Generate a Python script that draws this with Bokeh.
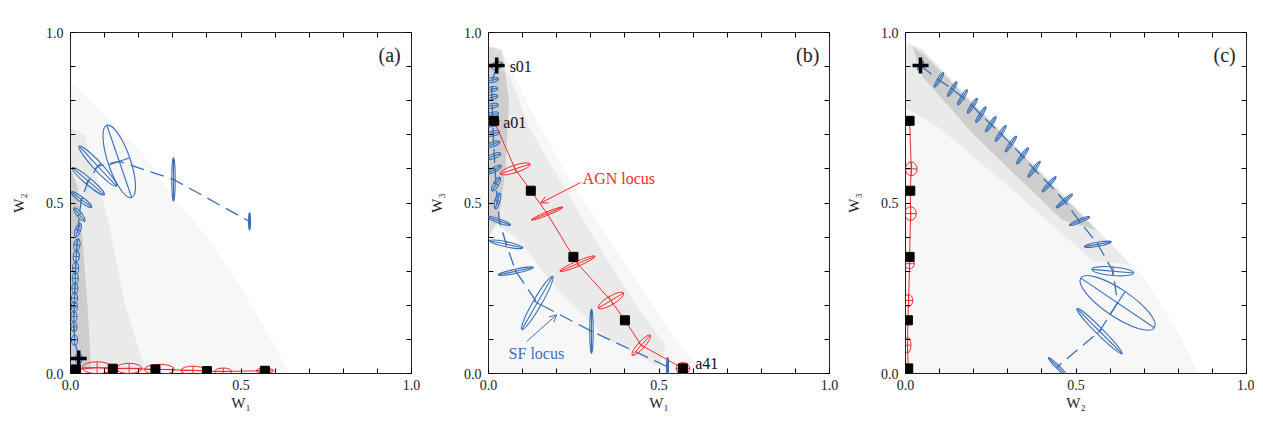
import numpy as np
from bokeh.plotting import figure
from bokeh.models import (Range1d, FixedTicker, LinearAxis, PrintfTickFormatter,
                          Arrow, OpenHead)
from bokeh.layouts import row
from bokeh.embed import file_html
from bokeh.resources import INLINE
from bokeh.core.properties import value

BLUE = "#3a70b8"
RED = "#f42a2a"
FONT = "Liberation Serif"

# ---------------- SF locus nodes (s01 ... ) ----------------
sf_w1 = [0.024, 0.012, 0.010, 0.010, 0.011, 0.012, 0.013, 0.014, 0.015, 0.017,
         0.019, 0.022, 0.026, 0.032, 0.052, 0.080, 0.143, 0.302, 0.525]
sf_w2 = [0.044, 0.098, 0.137, 0.167, 0.196, 0.221, 0.250, 0.279, 0.309, 0.343,
         0.377, 0.421, 0.466, 0.510, 0.564, 0.608, 0.622, 0.569, 0.446]
sf_w3 = [0.903, 0.861, 0.834, 0.810, 0.785, 0.759, 0.731, 0.704, 0.673, 0.638,
         0.599, 0.555, 0.506, 0.447, 0.379, 0.300, 0.207, 0.124, 0.020]

# SF error ellipses (major, minor, angle in deg) for each projection
sf_a_major = [0.030, 0.030, 0.028, 0.030, 0.030, 0.032, 0.030, 0.032, 0.034, 0.034,
              0.036, 0.040, 0.050, 0.074, 0.123, 0.160, 0.224, 0.127, 0.050]
sf_a_minor = [0.020, 0.018, 0.018, 0.018, 0.018, 0.018, 0.018, 0.018, 0.018, 0.018,
              0.018, 0.016, 0.015, 0.015, 0.020, 0.025, 0.065, 0.010, 0.006]
sf_a_angle = [90, 90, 90, 90, 90, 90, 90, 90, 90, 85, 80, 70, -50, -37, -40, -47, 109, 90, 90]

sf_b_major = [0.035, 0.034, 0.034, 0.035, 0.035, 0.036, 0.036, 0.038, 0.038, 0.040,
              0.042, 0.045, 0.048, 0.070, 0.100, 0.105, 0.180, 0.130, 0.055]
sf_b_minor = [0.020, 0.014, 0.014, 0.014, 0.014, 0.014, 0.014, 0.014, 0.014, 0.014,
              0.014, 0.015, 0.015, 0.012, 0.015, 0.012, 0.025, 0.010, 0.006]
sf_b_angle = [20, 10, 10, 15, 10, 15, 10, 15, 20, 20, 30, 60, 75, -20, -12, 12, 60, 90, 90]

sf_c_major = [0.030, 0.050, 0.050, 0.052, 0.052, 0.054, 0.054, 0.056, 0.056, 0.058,
              0.058, 0.060, 0.062, 0.064, 0.080, 0.123, 0.260, 0.187, 0.076]
sf_c_minor = [0.010, 0.010, 0.010, 0.010, 0.010, 0.010, 0.010, 0.010, 0.010, 0.010,
              0.010, 0.010, 0.010, 0.010, 0.012, 0.025, 0.080, 0.020, 0.010]
sf_c_angle = [60, 58, 58, 58, 57, 57, 56, 56, 55, 54, 52, 48, 40, 22, 10, -5, -34, -45, -45]

# ---------------- AGN locus nodes ----------------
agn_names = ["a01", "a06", "a11", "a16", "a21", "a22", "a28", "a31", "a36", "a41"]
agn_w1 = [0.016, 0.078, 0.124, 0.172, 0.249, 0.261, 0.359, 0.400, 0.448, 0.570]
agn_w2 = [0.012, 0.017, 0.014, 0.015, 0.012, 0.012, 0.009, 0.007, 0.006, 0.008]
agn_w3 = [0.741, 0.600, 0.536, 0.469, 0.342, 0.322, 0.214, 0.156, 0.083, 0.015]
agn_square_names = ["a01", "a11", "a21", "a31", "a41"]

agn_a_major = [0.030, 0.088, 0.0, 0.074, 0.0, 0.088, 0.070, 0.0, 0.050, 0.050]
agn_a_minor = [0.012, 0.035, 0.0, 0.030, 0.0, 0.030, 0.025, 0.0, 0.020, 0.015]
agn_a_angle = [0, 0, 0, 0, 0, 0, 0, 0, 0, 0]

agn_b_major = [0.035, 0.093, 0.0, 0.100, 0.0, 0.112, 0.086, 0.0, 0.079, 0.040]
agn_b_minor = [0.006, 0.022, 0.0, 0.010, 0.0, 0.015, 0.025, 0.0, 0.020, 0.034]
agn_b_angle = [0, 18, 0, 22, 0, 23, 31, 0, 48, 0]

agn_c_major = [0.020, 0.040, 0.0, 0.040, 0.0, 0.030, 0.035, 0.0, 0.045, 0.020]
agn_c_minor = [0.006, 0.034, 0.0, 0.034, 0.0, 0.028, 0.025, 0.0, 0.020, 0.010]
agn_c_angle = [0, 90, 0, 90, 0, 90, 90, 0, 90, 90]

# ---------------- galaxy cloud envelopes (outer / medium / dense) ----------------
cloud_a = [
    ([0, 0.64, 0.60, 0.50, 0.40, 0.30, 0.20, 0.10, 0.03, 0.0],
     [0, 0.0, 0.08, 0.25, 0.40, 0.52, 0.66, 0.76, 0.83, 0.85]),
    ([0, 0.22, 0.16, 0.11, 0.07, 0.04, 0.0],
     [0.01, 0.01, 0.20, 0.45, 0.60, 0.70, 0.72]),
    ([0, 0.06, 0.05, 0.035, 0.02, 0.0],
     [0.02, 0.02, 0.20, 0.40, 0.55, 0.60]),
]
cloud_b = [
    ([0, 0.63, 0.55, 0.45, 0.35, 0.22, 0.12, 0.05, 0.0],
     [0, 0.0, 0.10, 0.25, 0.40, 0.60, 0.78, 0.93, 0.96]),
    ([0, 0.06, 0.12, 0.22, 0.32, 0.42, 0.52, 0.50, 0.35, 0.20, 0.08, 0.0],
     [0.90, 0.88, 0.72, 0.55, 0.38, 0.22, 0.08, 0.02, 0.10, 0.25, 0.40, 0.45]),
    ([0, 0.04, 0.06, 0.05, 0.03, 0.0],
     [0.96, 0.95, 0.80, 0.60, 0.45, 0.40]),
]
cloud_c = [
    ([0, 0.0, 0.05, 0.70, 0.80, 0.86],
     [0, 0.98, 0.95, 0.28, 0.12, 0.0]),
    ([0, 0.05, 0.66, 0.55, 0.30, 0.10, 0.0],
     [0.97, 0.95, 0.32, 0.33, 0.55, 0.72, 0.78]),
    ([0.02, 0.06, 0.56, 0.46, 0.20, 0.05],
     [0.96, 0.93, 0.42, 0.45, 0.70, 0.87]),
]
cloud_alpha = [0.03, 0.05, 0.12]

# ---------------- annotations (panel b) ----------------
label_names = ["s01", "a01", "a41"]
label_w1 = [0.062, 0.043, 0.606]
label_w3 = [0.900, 0.735, 0.029]
agn_text_pos = (0.276, 0.571)
sf_text_pos = (0.059, 0.059)
agn_arrow = (0.270, 0.560, 0.153, 0.500)
sf_arrow = (0.112, 0.094, 0.200, 0.172)

TICKS = [0.0, 0.5, 1.0]
MINOR = [0.1, 0.2, 0.3, 0.4, 0.6, 0.7, 0.8, 0.9]
ALL_TICKS = [0.0, 0.1, 0.2, 0.3, 0.4, 0.5, 0.6, 0.7, 0.8, 0.9, 1.0]


def style_axis(ax, show_labels):
    if show_labels:
        ax.ticker = FixedTicker(ticks=TICKS, minor_ticks=MINOR)
    else:
        ax.ticker = FixedTicker(ticks=[], minor_ticks=ALL_TICKS)
    ax.major_tick_in = 5
    ax.major_tick_out = 0
    ax.minor_tick_in = 5
    ax.minor_tick_out = 0
    ax.major_tick_line_color = "black"
    ax.minor_tick_line_color = "black"
    ax.axis_line_color = None
    if show_labels:
        ax.formatter = PrintfTickFormatter(format="%.1f")
        ax.major_label_text_font = FONT
        ax.major_label_text_font_size = "14px"
        ax.major_label_text_color = "#222222"
        ax.axis_label_text_font = FONT
        ax.axis_label_text_font_size = "15px"
        ax.axis_label_text_font_style = "normal"
        ax.axis_label_text_color = "#222222"
    else:
        ax.major_label_standoff = 0
        ax.axis_label = None


def axes_segments(x, y, major, minor, ang):
    x = np.asarray(x, float); y = np.asarray(y, float)
    major = np.asarray(major, float); minor = np.asarray(minor, float)
    t = np.radians(np.asarray(ang, float))
    keep = major > 0
    x, y, major, minor, t = x[keep], y[keep], major[keep], minor[keep], t[keep]
    x0 = np.concatenate([x - major / 2 * np.cos(t), x - minor / 2 * np.cos(t + np.pi / 2)])
    y0 = np.concatenate([y - major / 2 * np.sin(t), y - minor / 2 * np.sin(t + np.pi / 2)])
    x1 = np.concatenate([x + major / 2 * np.cos(t), x + minor / 2 * np.cos(t + np.pi / 2)])
    y1 = np.concatenate([y + major / 2 * np.sin(t), y + minor / 2 * np.sin(t + np.pi / 2)])
    return x0, y0, x1, y1


def draw_ellipses(p, x, y, major, minor, ang, color, lw):
    keep = [i for i, m in enumerate(major) if m > 0]
    p.ellipse(x=[x[i] for i in keep], y=[y[i] for i in keep],
              width=[major[i] for i in keep], height=[minor[i] for i in keep],
              angle=[ang[i] for i in keep], angle_units="deg",
              fill_color=None, line_color=color, line_width=lw)
    x0, y0, x1, y1 = axes_segments(x, y, major, minor, ang)
    p.segment(x0=x0, y0=y0, x1=x1, y1=y1, line_color=color, line_width=lw)


def make_panel(sx, sy, s_ell, ax_, ay_, a_ell, cloud, xlabel, ylabel, tag, bl, br):
    p = figure(frame_width=341, frame_height=341,
               x_range=Range1d(0, 1), y_range=Range1d(0, 1),
               output_backend="svg", toolbar_location=None,
               min_border_left=bl, min_border_right=br,
               min_border_top=32, min_border_bottom=41,
               background_fill_color="white", border_fill_color="white")
    p.grid.visible = False
    p.outline_line_color = "#222222"
    p.outline_line_width = 1

    p.xaxis.axis_label = xlabel
    p.yaxis.axis_label = ylabel
    for ax in p.xaxis:
        style_axis(ax, True)
        ax.major_label_standoff = 6
        ax.axis_label_standoff = 2
    for ax in p.yaxis:
        style_axis(ax, True)
        ax.major_label_standoff = 7
        ax.axis_label_standoff = 16
    top = LinearAxis(); style_axis(top, False)
    right = LinearAxis(); style_axis(right, False)
    p.add_layout(top, "above")
    p.add_layout(right, "right")

    for (cx, cy), a in zip(cloud, cloud_alpha):
        p.patch(cx, cy, fill_color="black", fill_alpha=a, line_color=None)

    # SF locus
    p.line(sx, sy, line_color=BLUE, line_width=1.3, line_dash="14 7")
    draw_ellipses(p, sx, sy, *s_ell, BLUE, 1.1)
    # AGN locus
    p.line(ax_, ay_, line_color=RED, line_width=1.0)
    draw_ellipses(p, ax_, ay_, *a_ell, RED, 1.0)

    sq = [i for i, n in enumerate(agn_names) if n in agn_square_names]
    p.scatter([ax_[i] for i in sq], [ay_[i] for i in sq], marker="square",
              size=9, color="black")
    p.scatter([sx[0]], [sy[0]], marker="cross", size=16, line_width=3.5,
              line_color="black")

    p.text(x=[0.936], y=[0.935], text=[tag], text_font=value(FONT),
           text_font_size="20px", text_align="center", text_baseline="middle",
           text_color="#222222")
    return p


p1 = make_panel(sf_w1, sf_w2, (sf_a_major, sf_a_minor, sf_a_angle),
                agn_w1, agn_w2, (agn_a_major, agn_a_minor, agn_a_angle),
                cloud_a, "W\u2081", "W\u2082", "(a)", 70, 10)
p2 = make_panel(sf_w1, sf_w3, (sf_b_major, sf_b_minor, sf_b_angle),
                agn_w1, agn_w3, (agn_b_major, agn_b_minor, agn_b_angle),
                cloud_b, "W\u2081", "W\u2083", "(b)", 67, 10)
p3 = make_panel(sf_w2, sf_w3, (sf_c_major, sf_c_minor, sf_c_angle),
                agn_w2, agn_w3, (agn_c_major, agn_c_minor, agn_c_angle),
                cloud_c, "W\u2082", "W\u2083", "(c)", 66, 8)

# annotations in panel (b)
p2.text(x=label_w1, y=label_w3, text=label_names, text_font=value(FONT),
        text_font_size="16px", text_align="left", text_baseline="middle",
        text_color="#111111")
p2.text(x=[agn_text_pos[0]], y=[agn_text_pos[1]], text=["AGN locus"],
        text_font=value(FONT), text_font_size="16px", text_align="left",
        text_baseline="middle", text_color=RED)
p2.text(x=[sf_text_pos[0]], y=[sf_text_pos[1]], text=["SF locus"],
        text_font=value(FONT), text_font_size="16px", text_align="left",
        text_baseline="middle", text_color=BLUE)
p2.add_layout(Arrow(end=OpenHead(size=7, line_color=RED, line_width=1),
                    x_start=agn_arrow[0], y_start=agn_arrow[1],
                    x_end=agn_arrow[2], y_end=agn_arrow[3],
                    line_color=RED, line_width=1))
p2.add_layout(Arrow(end=OpenHead(size=7, line_color=BLUE, line_width=1),
                    x_start=sf_arrow[0], y_start=sf_arrow[1],
                    x_end=sf_arrow[2], y_end=sf_arrow[3],
                    line_color=BLUE, line_width=1))

layout = row(p1, p2, p3)
open("out.html", "w").write(file_html(layout, INLINE))
